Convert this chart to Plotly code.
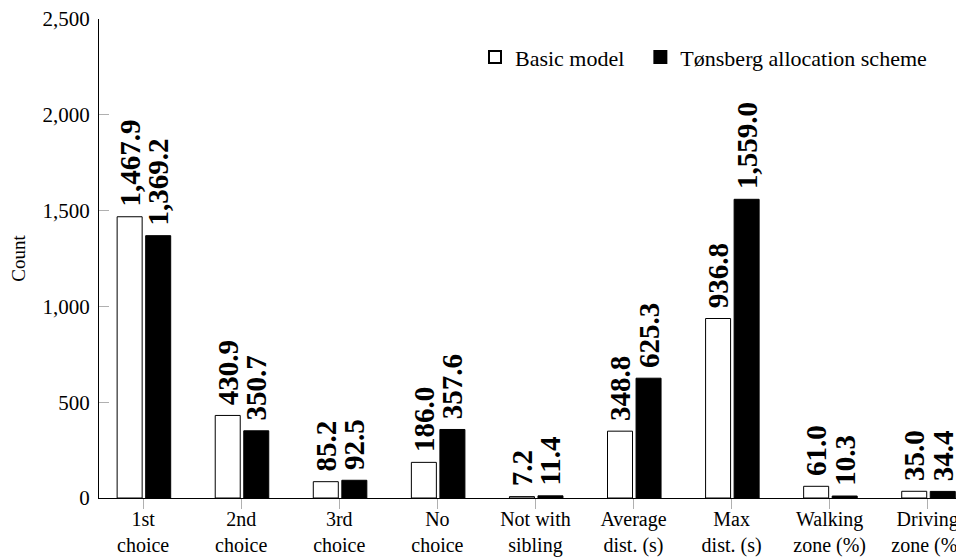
import plotly.graph_objects as go

categories = ["1st<br>choice", "2nd<br>choice", "3rd<br>choice", "No<br>choice",
              "Not with<br>sibling", "Average<br>dist. (s)", "Max<br>dist. (s)",
              "Walking<br>zone (%)", "Driving<br>zone (%)"]
basic_model = [1467.9, 430.9, 85.2, 186.0, 7.2, 348.8, 936.8, 61.0, 35.0]
tonsberg = [1369.2, 350.7, 92.5, 357.6, 11.4, 625.3, 1559.0, 10.3, 34.4]
y_ticks = [0, 500, 1000, 1500, 2000, 2500]

x_idx = list(range(len(categories)))
serif = "Liberation Serif, Times New Roman, serif"
label_font = dict(family=serif, size=29, color="black", weight="bold")

fig = go.Figure()
fig.add_trace(go.Bar(
    x=x_idx, y=basic_model, name="Basic model\u00a0\u00a0",
    marker=dict(color="white", line=dict(color="black", width=1)),
    width=0.255, offset=-0.265,
    text=basic_model, texttemplate="\u00a0%{y:,.1f}", textposition="outside",
    textangle=-90, constraintext="none", cliponaxis=False,
    textfont=label_font,
))
fig.add_trace(go.Bar(
    x=x_idx, y=tonsberg, name="Tønsberg allocation scheme",
    marker=dict(color="black", line=dict(color="black", width=1)),
    width=0.255, offset=0.026,
    text=tonsberg, texttemplate="\u00a0%{y:,.1f}", textposition="outside",
    textangle=-90, constraintext="none", cliponaxis=False,
    textfont=label_font,
))

# the page body adds an 8px margin; the figure is sized to fill the rest of the window
fig.update_layout(
    width=956, height=552,
    margin=dict(l=91, r=0, t=11, b=62, autoexpand=False),
    plot_bgcolor="white", paper_bgcolor="white",
    barmode="overlay",
    font=dict(family=serif, size=21, color="black"),
    showlegend=True,
    legend=dict(orientation="h", x=0.963, xanchor="right", y=0.92, yanchor="middle",
                bgcolor="rgba(0,0,0,0)", font=dict(family=serif, size=22),
                itemsizing="constant"),
    xaxis=dict(
        range=[-0.45, 8.37], tickmode="array", tickvals=x_idx, ticktext=categories,
        showline=True, linecolor="black", linewidth=1,
        ticks="outside", ticklen=10, tickcolor="#b0b0b0", tickwidth=1,
        ticklabelstandoff=-7, ticklabeloverflow="allow",
        showgrid=False, zeroline=False, tickfont=dict(family=serif, size=20),
    ),
    yaxis=dict(
        range=[0, 2500], tickmode="array", tickvals=y_ticks, tickformat=",",
        showline=True, linecolor="black", linewidth=1,
        ticks="inside", ticklen=10, tickcolor="#b0b0b0", tickwidth=1,
        ticklabelstandoff=4, ticklabeloverflow="allow",
        showgrid=False, zeroline=False, tickfont=dict(family=serif, size=21),
        title=dict(text="Count", font=dict(family=serif, size=19), standoff=12),
    ),
)

fig.write_html("out.html")
